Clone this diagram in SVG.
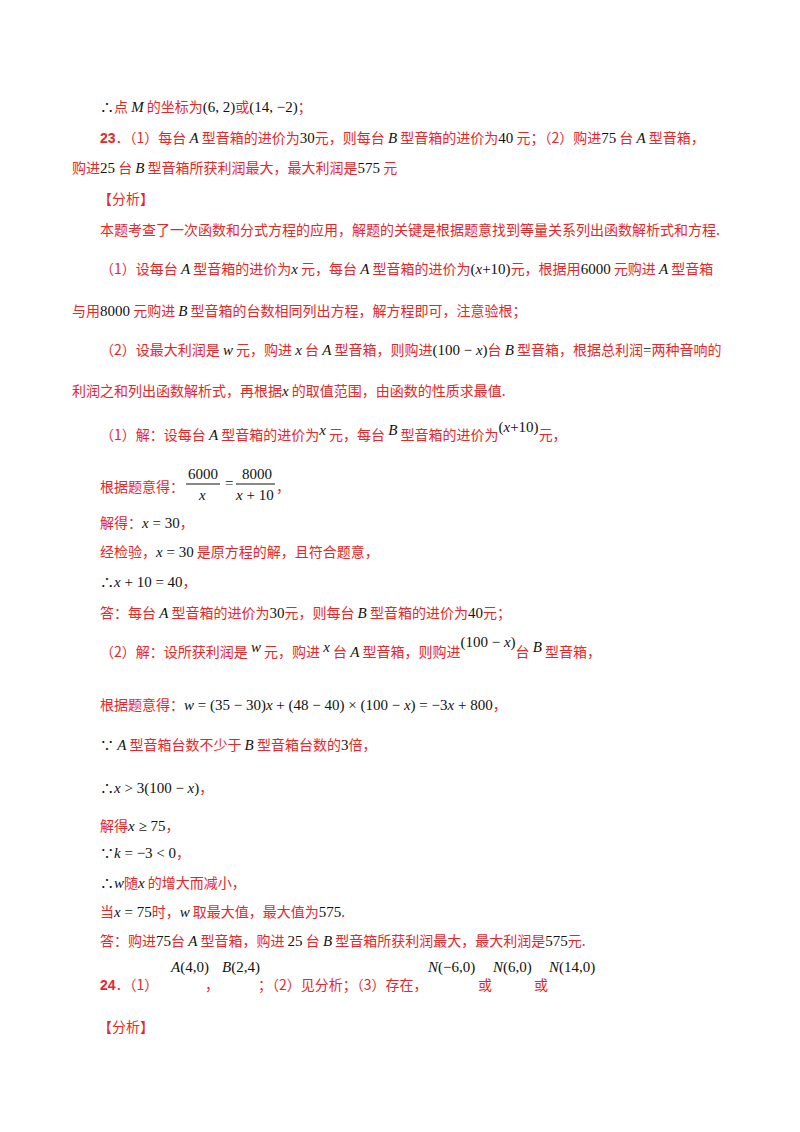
<svg xmlns="http://www.w3.org/2000/svg" width="800" height="1132" viewBox="0 0 800 1132">
<style>
text{font-family:"Noto Sans CJK SC","Liberation Serif",serif;font-size:14px;fill:#e8262a}
.m{font-family:"Liberation Serif",serif;fill:#111;font-size:15px}
.i{font-style:italic}
.b{font-weight:bold}
.k{fill:#111}
</style>
<rect width="800" height="1132" fill="#fff"/>
<g id="l1"><text x="100" y="112"><tspan class="k">∴</tspan>点 <tspan class="m i">M</tspan> 的坐标为<tspan class="m">(6, 2)</tspan>或<tspan class="m">(14, −2)</tspan>；</text></g>
<g id="l2"><text x="100" y="143"><tspan class="b" font-family="Liberation Sans">23</tspan>．（1）每台 <tspan class="m i">A</tspan> 型音箱的进价为<tspan class="m">30</tspan>元，则每台 <tspan class="m i" font-size="12">B</tspan> 型音箱的进价为<tspan class="m">40</tspan> 元；（2）购进<tspan class="m">75</tspan> 台 <tspan class="m i">A</tspan> 型音箱，</text></g>
<g id="l3"><text x="72" y="173">购进<tspan class="m">25</tspan> 台 <tspan class="m i" font-size="12">B</tspan> 型音箱所获利润最大，最大利润是<tspan class="m">575</tspan> 元</text></g>
<g id="l4"><text x="98" y="204">【分析】</text></g>
<g id="l5"><text x="100" y="235">本题考查了一次函数和分式方程的应用，解题的关键是根据题意找到等量关系列出函数解析式和方程.</text></g>
<g id="l6"><text x="100" y="274">（1）设每台 <tspan class="m i">A</tspan> 型音箱的进价为<tspan class="m i">x</tspan> 元，每台 <tspan class="m i">A</tspan> 型音箱的进价为<tspan class="m" font-size="17">(<tspan class="i">x</tspan>+10)</tspan>元，根据用<tspan class="m">6000</tspan> 元购进 <tspan class="m i">A</tspan> 型音箱</text></g>
<g id="l7"><text x="72" y="316">与用<tspan class="m">8000</tspan> 元购进 <tspan class="m i" font-size="12">B</tspan> 型音箱的台数相同列出方程，解方程即可，注意验根；</text></g>
<g id="l8"><text x="100" y="355">（2）设最大利润是 <tspan class="m i">w</tspan> 元，购进 <tspan class="m i">x</tspan> 台 <tspan class="m i">A</tspan> 型音箱，则购进<tspan class="m" font-size="17">(100 − <tspan class="i">x</tspan>)</tspan>台 <tspan class="m i">B</tspan> 型音箱，根据总利润<tspan class="m">=</tspan>两种音响的</text></g>
<g id="l9"><text x="72" y="396">利润之和列出函数解析式，再根据<tspan class="m i">x</tspan> 的取值范围，由函数的性质求最值.</text></g>
<g id="l10"><text x="100" y="440">（1）解：设每台 <tspan class="m i">A</tspan> 型音箱的进价为<tspan class="m i" dy="-5">x</tspan><tspan dy="5"> 元，每台 </tspan><tspan class="m i" dy="-5">B</tspan><tspan dy="5"> 型音箱的进价为</tspan><tspan class="m" font-size="17" dy="-8">(<tspan class="i">x</tspan>+10)</tspan><tspan dy="8">元，</tspan></text></g>
<g id="l11"><text x="100" y="492">根据题意得：</text>
<text class="m" x="188" y="479">6000</text><line x1="186" y1="484" x2="220" y2="484" stroke="#111"/><text class="m i" x="199" y="500">x</text>
<text class="m" x="225" y="488">=</text>
<text class="m" x="242" y="479">8000</text><line x1="236" y1="484" x2="275" y2="484" stroke="#111"/><text class="m" x="236" y="500"><tspan class="i">x</tspan> + 10</text>
<text x="276" y="492">，</text></g>
<g id="l12"><text x="100" y="528">解得：<tspan class="m i">x</tspan><tspan class="m"> = 30</tspan>，</text></g>
<g id="l13"><text x="100" y="557">经检验，<tspan class="m i">x</tspan><tspan class="m"> = 30</tspan> 是原方程的解，且符合题意，</text></g>
<g id="l14"><text x="100" y="587"><tspan class="k">∴</tspan><tspan class="m"><tspan class="i">x</tspan> + 10 = 40</tspan>，</text></g>
<g id="l15"><text x="100" y="618">答：每台 <tspan class="m i">A</tspan> 型音箱的进价为<tspan class="m">30</tspan>元，则每台 <tspan class="m i" font-size="12">B</tspan> 型音箱的进价为<tspan class="m">40</tspan>元；</text></g>
<g id="l16"><text x="100" y="657">（2）解：设所获利润是 <tspan class="m i" dy="-5">w</tspan><tspan dy="5"> 元，购进 </tspan><tspan class="m i" dy="-5">x</tspan><tspan dy="5"> 台 </tspan><tspan class="m i">A</tspan> 型音箱，则购进<tspan class="m" font-size="17" dy="-10">(100 − <tspan class="i">x</tspan>)</tspan><tspan dy="10">台 </tspan><tspan class="m i" dy="-5">B</tspan><tspan dy="5"> 型音箱，</tspan></text></g>
<g id="l17"><text x="100" y="710">根据题意得：<tspan class="m"><tspan class="i">w</tspan> = (35 − 30)<tspan class="i">x</tspan> + (48 − 40) × (100 − <tspan class="i">x</tspan>) = −3<tspan class="i">x</tspan> + 800</tspan>，</text></g>
<g id="l18"><text x="100" y="750"><tspan class="k">∵</tspan> <tspan class="m i">A</tspan> 型音箱台数不少于 <tspan class="m i" font-size="12">B</tspan> 型音箱台数的<tspan class="m">3</tspan>倍，</text></g>
<g id="l19"><text x="100" y="793"><tspan class="k">∴</tspan><tspan class="m"><tspan class="i">x</tspan> &gt; 3</tspan><tspan class="m" font-size="17">(100 − <tspan class="i">x</tspan>)</tspan>，</text></g>
<g id="l20"><text x="100" y="831">解得<tspan class="m"><tspan class="i">x</tspan> ≥ 75</tspan>，</text></g>
<g id="l21"><text x="100" y="858"><tspan class="k">∵</tspan><tspan class="m"><tspan class="i">k</tspan> = −3 &lt; 0</tspan>，</text></g>
<g id="l22"><text x="100" y="888"><tspan class="k">∴</tspan><tspan class="m i">w</tspan>随<tspan class="m i">x</tspan> 的增大而减小，</text></g>
<g id="l23"><text x="100" y="917">当<tspan class="m" font-size="8"><tspan class="i">x</tspan> = 75</tspan>时，<tspan class="m i">w</tspan> 取最大值，最大值为<tspan class="m">575</tspan>.</text></g>
<g id="l24"><text x="100" y="946">答：购进<tspan class="m">75</tspan>台 <tspan class="m i">A</tspan> 型音箱，购进 <tspan class="m">25</tspan> 台 <tspan class="m i">B</tspan> 型音箱所获利润最大，最大利润是<tspan class="m">575</tspan>元.</text></g>
<g id="l25"><text x="100" y="990"><tspan class="b" font-family="Liberation Sans">24</tspan>．（1）</text>
<text class="m" x="171" y="972" font-size="14"><tspan class="i">A</tspan>(4,0)</text><text x="205" y="990">，</text>
<text class="m" x="222" y="972" font-size="14"><tspan class="i">B</tspan>(2,4)</text>
<text x="258" y="990">；（2）见分析；（3）存在，</text>
<text class="m" x="428" y="972" font-size="14"><tspan class="i">N</tspan>(−6,0)</text><text x="478" y="990">或</text>
<text class="m" x="493" y="972" font-size="14"><tspan class="i">N</tspan>(6,0)</text><text x="534" y="990">或</text>
<text class="m" x="549" y="972" font-size="14"><tspan class="i">N</tspan>(14,0)</text></g>
<g id="l26"><text x="98" y="1032">【分析】</text></g>
</svg>
